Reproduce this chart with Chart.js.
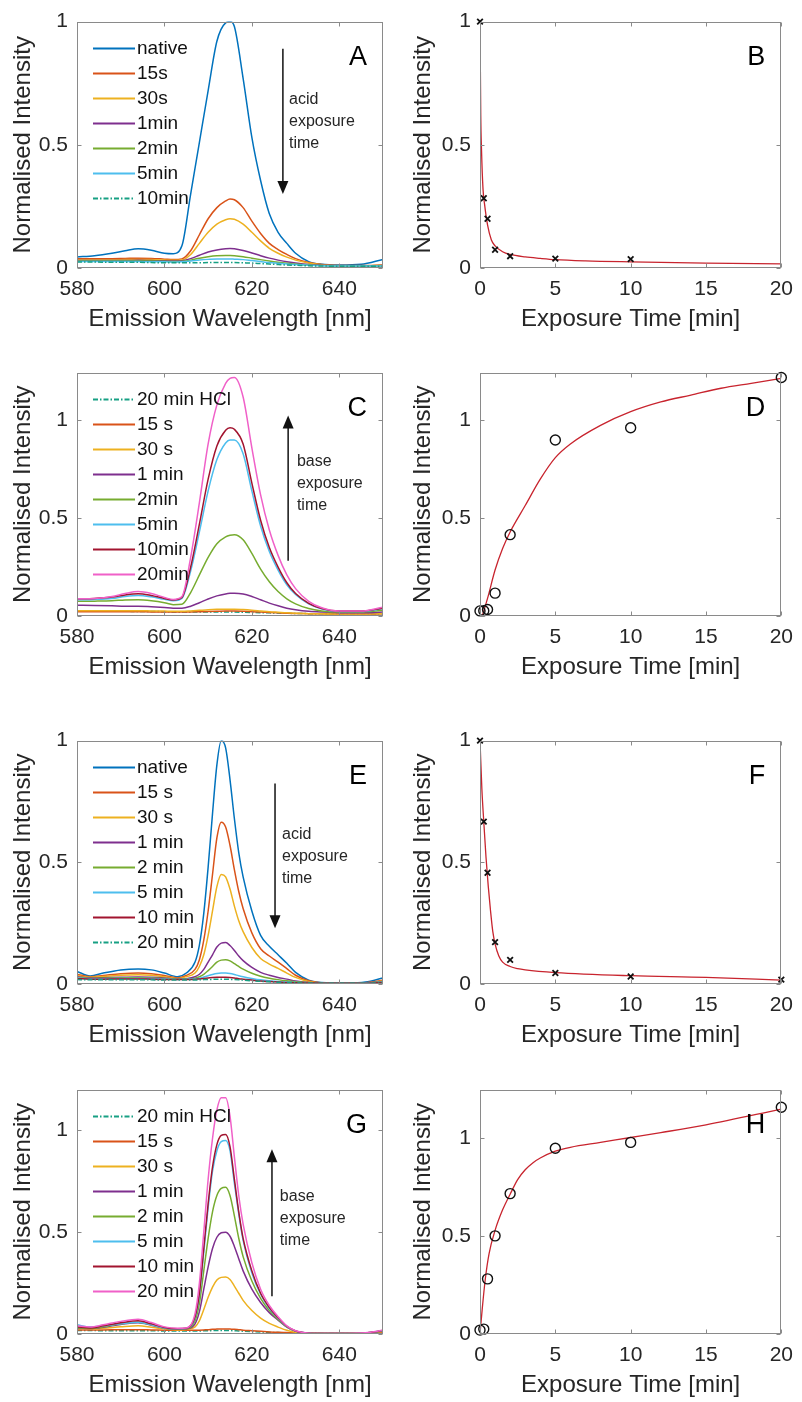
<!DOCTYPE html>
<html>
<head>
<meta charset="utf-8">
<script src="https://cdn.jsdelivr.net/npm/chart.js@4.4.0/dist/chart.umd.min.js"></script>
<style>
  body { margin: 0; background: #fff; }
  #fig { position: relative; width: 802px; height: 1402px; background: #fff; }
  #fig canvas { position: absolute; }
</style>
</head>
<body>
<div id="fig"></div>
<script>
// tick labels
const waveTicks = [580, 600, 620, 640];
const timeTicks = [0, 5, 10, 15, 20];
const intensityTicks = [0, 0.5, 1];

// wavelength grids (nm)
const wlAC = [580, 584, 588, 591, 594, 597, 600, 602, 604, 606, 608, 610, 612, 614, 615, 616, 618, 620, 622, 624, 626, 628, 630, 633, 636, 640, 645, 650];
const wlEG = [580, 583, 586, 590, 594, 597, 600, 603, 605, 607, 608, 609, 610, 611, 612, 613, 614, 615, 616, 617, 618, 620, 622, 624, 626, 628, 630, 633, 637, 642, 646, 650];

// panel A - acid exposure
const aNative = [0.045, 0.05, 0.06, 0.07, 0.078, 0.072, 0.06, 0.058, 0.09, 0.3, 0.51, 0.72, 0.92, 0.995, 1.0, 0.98, 0.77, 0.53, 0.355, 0.22, 0.145, 0.1, 0.06, 0.026, 0.015, 0.012, 0.015, 0.035];
const a15s = [0.038, 0.038, 0.038, 0.039, 0.04, 0.039, 0.036, 0.034, 0.037, 0.07, 0.135, 0.2, 0.245, 0.272, 0.28, 0.277, 0.245, 0.19, 0.14, 0.1, 0.075, 0.055, 0.038, 0.022, 0.014, 0.01, 0.01, 0.012];
const a30s = [0.033, 0.033, 0.033, 0.034, 0.035, 0.034, 0.032, 0.031, 0.033, 0.055, 0.1, 0.145, 0.178, 0.196, 0.2, 0.198, 0.178, 0.145, 0.11, 0.08, 0.06, 0.044, 0.032, 0.02, 0.013, 0.009, 0.009, 0.011];
const a1min = [0.03, 0.03, 0.03, 0.03, 0.031, 0.03, 0.029, 0.028, 0.029, 0.038, 0.052, 0.065, 0.073, 0.078, 0.079, 0.078, 0.071, 0.061, 0.05, 0.04, 0.032, 0.025, 0.02, 0.014, 0.011, 0.009, 0.009, 0.01];
const a2min = [0.028, 0.028, 0.028, 0.028, 0.028, 0.028, 0.027, 0.026, 0.027, 0.032, 0.04, 0.046, 0.05, 0.051, 0.051, 0.05, 0.046, 0.04, 0.034, 0.028, 0.023, 0.019, 0.016, 0.012, 0.01, 0.008, 0.008, 0.009];
const a5min = [0.026, 0.026, 0.026, 0.026, 0.026, 0.025, 0.025, 0.024, 0.025, 0.028, 0.032, 0.035, 0.037, 0.037, 0.037, 0.036, 0.034, 0.03, 0.026, 0.022, 0.019, 0.016, 0.014, 0.011, 0.009, 0.008, 0.008, 0.008];
const a10min = [0.024, 0.024, 0.023, 0.023, 0.023, 0.022, 0.021, 0.021, 0.021, 0.021, 0.021, 0.022, 0.022, 0.022, 0.022, 0.022, 0.021, 0.02, 0.018, 0.016, 0.014, 0.012, 0.011, 0.009, 0.008, 0.007, 0.007, 0.007];

// panel C - base exposure
const cHCl = [0.025, 0.025, 0.024, 0.024, 0.023, 0.023, 0.022, 0.021, 0.021, 0.02, 0.02, 0.02, 0.02, 0.02, 0.02, 0.02, 0.019, 0.018, 0.017, 0.016, 0.015, 0.014, 0.013, 0.012, 0.011, 0.011, 0.011, 0.012];
const c15s = [0.022, 0.022, 0.022, 0.022, 0.022, 0.021, 0.021, 0.02, 0.02, 0.021, 0.022, 0.023, 0.024, 0.025, 0.025, 0.025, 0.024, 0.022, 0.02, 0.018, 0.016, 0.014, 0.013, 0.012, 0.011, 0.01, 0.01, 0.011];
const c30s = [0.027, 0.027, 0.027, 0.027, 0.027, 0.026, 0.025, 0.024, 0.024, 0.026, 0.029, 0.032, 0.034, 0.035, 0.035, 0.035, 0.033, 0.03, 0.026, 0.022, 0.019, 0.016, 0.014, 0.012, 0.011, 0.01, 0.01, 0.012];
const c1min = [0.055, 0.054, 0.052, 0.05, 0.05, 0.047, 0.043, 0.04, 0.04, 0.05, 0.068, 0.087, 0.103, 0.113, 0.116, 0.117, 0.113, 0.1, 0.083, 0.066, 0.052, 0.04, 0.032, 0.024, 0.02, 0.017, 0.016, 0.02];
const c2min = [0.075, 0.076, 0.078, 0.082, 0.083, 0.078, 0.068, 0.058, 0.06, 0.12, 0.21, 0.3, 0.37, 0.405, 0.413, 0.416, 0.39, 0.32, 0.24, 0.175, 0.125, 0.088, 0.062, 0.038, 0.026, 0.02, 0.02, 0.03];
const c5min = [0.083, 0.085, 0.09, 0.1, 0.105, 0.098, 0.085, 0.078, 0.09, 0.23, 0.43, 0.64, 0.8, 0.885, 0.9, 0.9, 0.83, 0.64, 0.46, 0.33, 0.235, 0.16, 0.11, 0.062, 0.036, 0.023, 0.023, 0.038];
const c10min = [0.088, 0.09, 0.097, 0.108, 0.114, 0.105, 0.09, 0.082, 0.095, 0.25, 0.47, 0.7, 0.87, 0.95, 0.963, 0.955, 0.88, 0.68, 0.49, 0.35, 0.25, 0.17, 0.115, 0.065, 0.038, 0.025, 0.025, 0.04];
const c20min = [0.088, 0.09, 0.1, 0.115, 0.125, 0.115, 0.095, 0.085, 0.1, 0.3, 0.58, 0.88, 1.08, 1.19, 1.215, 1.22, 1.12, 0.86, 0.62, 0.44, 0.31, 0.21, 0.14, 0.075, 0.042, 0.025, 0.025, 0.045];

// panel E - acid exposure
const eNative = [0.052, 0.033, 0.045, 0.058, 0.062, 0.058, 0.045, 0.03, 0.045, 0.09, 0.16, 0.29, 0.48, 0.7, 0.9, 1.0, 0.97, 0.84, 0.68, 0.54, 0.44, 0.3, 0.2, 0.155, 0.12, 0.085, 0.048, 0.016, 0.005, 0.004, 0.008, 0.025];
const e15s = [0.04, 0.03, 0.035, 0.042, 0.045, 0.042, 0.035, 0.025, 0.035, 0.06, 0.1, 0.18, 0.3, 0.45, 0.6, 0.665, 0.645, 0.57, 0.47, 0.38, 0.31, 0.21, 0.145, 0.115, 0.09, 0.063, 0.036, 0.013, 0.004, 0.003, 0.005, 0.015];
const e30s = [0.035, 0.028, 0.031, 0.036, 0.038, 0.036, 0.03, 0.022, 0.03, 0.045, 0.072, 0.12, 0.2, 0.3, 0.4, 0.45, 0.44, 0.39, 0.32, 0.26, 0.215, 0.15, 0.105, 0.082, 0.064, 0.045, 0.027, 0.01, 0.003, 0.003, 0.004, 0.012];
const e1min = [0.03, 0.025, 0.026, 0.028, 0.029, 0.028, 0.025, 0.02, 0.022, 0.03, 0.04, 0.06, 0.09, 0.12, 0.152, 0.168, 0.17, 0.158, 0.138, 0.115, 0.096, 0.068, 0.048, 0.036, 0.027, 0.02, 0.012, 0.006, 0.003, 0.003, 0.004, 0.01];
const e2min = [0.027, 0.023, 0.024, 0.025, 0.026, 0.025, 0.023, 0.02, 0.021, 0.024, 0.03, 0.04, 0.055, 0.072, 0.09, 0.098, 0.1, 0.095, 0.084, 0.072, 0.061, 0.044, 0.032, 0.024, 0.018, 0.013, 0.009, 0.005, 0.003, 0.003, 0.004, 0.009];
const e5min = [0.025, 0.022, 0.022, 0.023, 0.023, 0.023, 0.021, 0.019, 0.02, 0.021, 0.024, 0.029, 0.034, 0.039, 0.043, 0.045, 0.045, 0.043, 0.039, 0.034, 0.03, 0.023, 0.017, 0.013, 0.01, 0.008, 0.006, 0.004, 0.003, 0.003, 0.004, 0.008];
const e10min = [0.022, 0.02, 0.02, 0.021, 0.021, 0.02, 0.019, 0.018, 0.018, 0.019, 0.021, 0.023, 0.025, 0.027, 0.028, 0.028, 0.028, 0.027, 0.025, 0.022, 0.02, 0.016, 0.012, 0.01, 0.008, 0.006, 0.005, 0.004, 0.003, 0.003, 0.003, 0.006];
const e20min = [0.018, 0.017, 0.017, 0.017, 0.017, 0.017, 0.016, 0.016, 0.016, 0.016, 0.017, 0.018, 0.019, 0.019, 0.02, 0.02, 0.02, 0.019, 0.018, 0.017, 0.016, 0.013, 0.011, 0.009, 0.007, 0.006, 0.005, 0.004, 0.003, 0.003, 0.003, 0.005];

// panel G - base exposure
const gHCl = [0.017, 0.017, 0.016, 0.016, 0.016, 0.016, 0.015, 0.015, 0.015, 0.015, 0.015, 0.016, 0.016, 0.017, 0.017, 0.017, 0.017, 0.017, 0.016, 0.015, 0.014, 0.012, 0.01, 0.008, 0.007, 0.006, 0.005, 0.004, 0.003, 0.003, 0.003, 0.005];
const g15s = [0.02, 0.02, 0.02, 0.021, 0.021, 0.02, 0.019, 0.018, 0.018, 0.018, 0.019, 0.02, 0.021, 0.023, 0.024, 0.025, 0.025, 0.024, 0.023, 0.021, 0.019, 0.016, 0.013, 0.01, 0.008, 0.007, 0.006, 0.005, 0.004, 0.004, 0.004, 0.007];
const g30s = [0.028, 0.025, 0.028, 0.035, 0.04, 0.033, 0.024, 0.02, 0.022, 0.035, 0.065, 0.12, 0.18, 0.23, 0.265, 0.278, 0.28, 0.268, 0.235, 0.2, 0.165, 0.115, 0.078, 0.052, 0.034, 0.018, 0.008, 0.003, 0.002, 0.002, 0.004, 0.012];
const g1min = [0.03, 0.027, 0.033, 0.047, 0.055, 0.043, 0.028, 0.023, 0.025, 0.05, 0.11, 0.22, 0.33, 0.42, 0.475, 0.497, 0.5, 0.48, 0.43, 0.37, 0.31, 0.22, 0.155, 0.105, 0.068, 0.034, 0.014, 0.004, 0.002, 0.002, 0.005, 0.015];
const g2min = [0.03, 0.028, 0.035, 0.05, 0.058, 0.045, 0.03, 0.024, 0.026, 0.065, 0.15, 0.31, 0.47, 0.6, 0.68, 0.715, 0.72, 0.68, 0.58, 0.47, 0.38, 0.26, 0.175, 0.115, 0.072, 0.035, 0.014, 0.004, 0.002, 0.002, 0.005, 0.015];
const g5min = [0.045, 0.035, 0.04, 0.05, 0.058, 0.045, 0.03, 0.025, 0.028, 0.08, 0.19, 0.4, 0.62, 0.8, 0.9, 0.945, 0.95, 0.9, 0.74, 0.59, 0.46, 0.3, 0.195, 0.125, 0.078, 0.037, 0.015, 0.004, 0.002, 0.002, 0.005, 0.016];
const g10min = [0.035, 0.03, 0.04, 0.055, 0.065, 0.05, 0.032, 0.026, 0.028, 0.085, 0.2, 0.42, 0.64, 0.82, 0.93, 0.975, 0.98, 0.92, 0.76, 0.6, 0.47, 0.31, 0.2, 0.13, 0.08, 0.038, 0.015, 0.004, 0.002, 0.002, 0.005, 0.017];
const g20min = [0.04, 0.034, 0.045, 0.062, 0.072, 0.056, 0.035, 0.028, 0.03, 0.1, 0.25, 0.5, 0.76, 0.96, 1.1, 1.16, 1.16, 1.07, 0.87, 0.68, 0.54, 0.35, 0.22, 0.14, 0.085, 0.04, 0.016, 0.004, 0.002, 0.002, 0.006, 0.018];

// kinetics (exposure time in min)
const tB = [0, 0.25, 0.5, 1, 2, 5, 10];
const yB = [1.0, 0.283, 0.2, 0.074, 0.048, 0.038, 0.036];
const fitTB = [0, 0.05, 0.1, 0.2, 0.3, 0.5, 0.75, 1, 1.5, 2, 3, 4, 5, 7, 10, 15, 20];
const fitYB = [1.0, 0.62, 0.48, 0.32, 0.26, 0.175, 0.115, 0.09, 0.066, 0.055, 0.045, 0.039, 0.034, 0.029, 0.025, 0.02, 0.017];

const tD = [0, 0.25, 0.5, 1, 2, 5, 10, 20];
const yD = [0.026, 0.027, 0.033, 0.117, 0.416, 0.9, 0.963, 1.22];
const fitTD = [0.15, 0.5, 1, 1.5, 2, 3, 4, 5, 6, 8, 10, 12, 14, 16, 18, 20];
const fitYD = [0, 0.09, 0.235, 0.345, 0.43, 0.565, 0.7, 0.81, 0.88, 0.975, 1.045, 1.095, 1.13, 1.165, 1.19, 1.215];

const tF = [0, 0.25, 0.5, 1, 2, 5, 10, 20];
const yF = [1.0, 0.667, 0.457, 0.172, 0.099, 0.045, 0.031, 0.018];
const fitTF = [0, 0.125, 0.25, 0.4, 0.55, 0.7, 0.85, 1, 1.25, 1.5, 2, 2.5, 3, 5, 10, 15, 20];
const fitYF = [1.0, 0.8, 0.667, 0.52, 0.4, 0.3, 0.215, 0.165, 0.115, 0.09, 0.072, 0.063, 0.058, 0.047, 0.034, 0.027, 0.016];

const tH = [0, 0.25, 0.5, 1, 2, 5, 10, 20];
const yH = [0.02, 0.025, 0.282, 0.502, 0.718, 0.95, 0.98, 1.16];
const fitTH = [0, 0.15, 0.35, 0.6, 1, 1.5, 2, 2.5, 3, 3.5, 4, 5, 6, 8, 10, 12, 15, 20];
const fitYH = [0, 0.13, 0.28, 0.41, 0.53, 0.635, 0.715, 0.79, 0.84, 0.875, 0.9, 0.935, 0.955, 0.98, 1.005, 1.03, 1.07, 1.15];

const FONT = '"Liberation Sans", Arial, sans-serif';
const TEXT = '#262626';
const BLUE = '#0072BD', ORANGE = '#D95319', YELLOW = '#EDB120', PURPLE = '#7E2F8E',
      GREEN = '#77AC30', CYAN = '#4DBEEE', DARKRED = '#A2142F', PINK = '#F060C8', TEAL = '#17A083';
const DASHDOT = [5, 2, 1.5, 2];
const FITRED = '#C8242E';

function spectrum(label, xs, ys, color, dash) {
  return {
    label: label,
    data: xs.map((x, i) => ({ x: x, y: ys[i] })),
    showLine: true,
    borderColor: color,
    borderWidth: 1.5,
    borderDash: dash || [],
    pointRadius: 0,
    cubicInterpolationMode: 'monotone',
    fill: false
  };
}

function markers(xs, ys, style) {
  return {
    legend: false,
    data: xs.map((x, i) => ({ x: x, y: ys[i] })),
    showLine: false,
    pointStyle: style,
    pointRadius: style === 'circle' ? 5 : 4,
    borderColor: '#111',
    backgroundColor: 'rgba(0,0,0,0)',
    borderWidth: style === 'circle' ? 1.4 : 1.8,
    clip: false
  };
}

function fitLine(xs, ys) {
  return {
    legend: false,
    data: xs.map((x, i) => ({ x: x, y: ys[i] })),
    showLine: true,
    borderColor: FITRED,
    borderWidth: 1.3,
    pointRadius: 0,
    cubicInterpolationMode: 'monotone'
  };
}

// box, inward ticks, in-axes legend, arrows, notes and panel letters
const decor = {
  id: 'decor',
  afterDatasetsDraw(chart, args, opts) {
    const ctx = chart.ctx;
    const a = chart.chartArea;
    const xs = chart.scales.x, ys = chart.scales.y;
    const L = Math.round(a.left) + 0.5, R = Math.round(a.right) - 0.5;
    const T = Math.round(a.top) + 0.5, B = Math.round(a.bottom) - 0.5;
    ctx.save();
    ctx.strokeStyle = '#8a8a8a';
    ctx.lineWidth = 1;
    ctx.strokeRect(L, T, R - L, B - T);
    ctx.beginPath();
    xs.ticks.forEach(t => {
      const px = Math.round(xs.getPixelForValue(t.value)) + 0.5;
      ctx.moveTo(px, B); ctx.lineTo(px, B - 4);
      ctx.moveTo(px, T); ctx.lineTo(px, T + 4);
    });
    ys.ticks.forEach(t => {
      const py = Math.round(ys.getPixelForValue(t.value)) + 0.5;
      ctx.moveTo(L, py); ctx.lineTo(L + 4, py);
      ctx.moveTo(R, py); ctx.lineTo(R - 4, py);
    });
    ctx.stroke();

    if (opts.legend) {
      ctx.font = '19px ' + FONT;
      ctx.textAlign = 'left';
      ctx.textBaseline = 'middle';
      let row = 0;
      chart.data.datasets.forEach(ds => {
        if (ds.legend === false) return;
        const yy = a.top + 27 + row * 25;
        ctx.strokeStyle = ds.borderColor;
        ctx.lineWidth = 2;
        ctx.setLineDash(ds.borderDash || []);
        ctx.beginPath();
        ctx.moveTo(a.left + 16, yy);
        ctx.lineTo(a.left + 58, yy);
        ctx.stroke();
        ctx.setLineDash([]);
        ctx.fillStyle = '#111';
        ctx.fillText(ds.label, a.left + 60, yy);
        row++;
      });
    }

    if (opts.arrow) {
      const ax = xs.getPixelForValue(opts.arrow.x);
      const y0 = ys.getPixelForValue(opts.arrow.from);
      const y1 = ys.getPixelForValue(opts.arrow.to);
      const dir = y1 > y0 ? 1 : -1;
      ctx.strokeStyle = '#111';
      ctx.fillStyle = '#111';
      ctx.lineWidth = 1.5;
      ctx.beginPath();
      ctx.moveTo(ax, y0);
      ctx.lineTo(ax, y1 - dir * 10);
      ctx.stroke();
      ctx.beginPath();
      ctx.moveTo(ax, y1);
      ctx.lineTo(ax - 5.5, y1 - dir * 13);
      ctx.lineTo(ax + 5.5, y1 - dir * 13);
      ctx.closePath();
      ctx.fill();
    }

    if (opts.note) {
      ctx.font = '16px ' + FONT;
      ctx.fillStyle = TEXT;
      ctx.textAlign = 'left';
      ctx.textBaseline = 'middle';
      const nx = xs.getPixelForValue(opts.note.x);
      const ny = ys.getPixelForValue(opts.note.y);
      opts.note.lines.forEach((s, i) => ctx.fillText(s, nx, ny + i * 22));
    }

    if (opts.letter) {
      ctx.font = '27px ' + FONT;
      ctx.fillStyle = '#000';
      ctx.textAlign = 'right';
      ctx.textBaseline = 'alphabetic';
      ctx.fillText(opts.letter, a.right - 16, a.top + 43);
    }
    ctx.restore();
  }
};

const spectraA = [
  spectrum('native', wlAC, aNative, BLUE),
  spectrum('15s', wlAC, a15s, ORANGE),
  spectrum('30s', wlAC, a30s, YELLOW),
  spectrum('1min', wlAC, a1min, PURPLE),
  spectrum('2min', wlAC, a2min, GREEN),
  spectrum('5min', wlAC, a5min, CYAN),
  spectrum('10min', wlAC, a10min, TEAL, DASHDOT)
];
const spectraC = [
  spectrum('20 min HCl', wlAC, cHCl, TEAL, DASHDOT),
  spectrum('15 s', wlAC, c15s, ORANGE),
  spectrum('30 s', wlAC, c30s, YELLOW),
  spectrum('1 min', wlAC, c1min, PURPLE),
  spectrum('2min', wlAC, c2min, GREEN),
  spectrum('5min', wlAC, c5min, CYAN),
  spectrum('10min', wlAC, c10min, DARKRED),
  spectrum('20min', wlAC, c20min, PINK)
];
const spectraE = [
  spectrum('native', wlEG, eNative, BLUE),
  spectrum('15 s', wlEG, e15s, ORANGE),
  spectrum('30 s', wlEG, e30s, YELLOW),
  spectrum('1 min', wlEG, e1min, PURPLE),
  spectrum('2 min', wlEG, e2min, GREEN),
  spectrum('5 min', wlEG, e5min, CYAN),
  spectrum('10 min', wlEG, e10min, DARKRED),
  spectrum('20 min', wlEG, e20min, TEAL, DASHDOT)
];
const spectraG = [
  spectrum('20 min HCl', wlEG, gHCl, TEAL, DASHDOT),
  spectrum('15 s', wlEG, g15s, ORANGE),
  spectrum('30 s', wlEG, g30s, YELLOW),
  spectrum('1 min', wlEG, g1min, PURPLE),
  spectrum('2 min', wlEG, g2min, GREEN),
  spectrum('5 min', wlEG, g5min, CYAN),
  spectrum('10 min', wlEG, g10min, DARKRED),
  spectrum('20 min', wlEG, g20min, PINK)
];
// later curves on top, like the original plot order
[spectraA, spectraC, spectraE, spectraG].forEach(list => list.forEach((ds, i) => { ds.order = -i; }));

const WAVE_TITLE = 'Emission Wavelength [nm]';
const TIME_TITLE = 'Exposure Time [min]';

const panels = [
  { colLeft: 0, colWidth: 400, left: 77, right: 383, top: 20, bottom: 268, xMin: 580, xMax: 650, xTicks: waveTicks, yMax: 1,
    xTitle: WAVE_TITLE, datasets: spectraA,
    decor: { letter: 'A', legend: true, arrow: { x: 627.1, from: 0.89, to: 0.30 }, note: { x: 628.5, y: 0.685, lines: ['acid', 'exposure', 'time'] } } },
  { colLeft: 400, colWidth: 402, left: 480, right: 786, top: 20, bottom: 268, xMin: 0, xMax: 20, xTicks: timeTicks, yMax: 1,
    xTitle: TIME_TITLE, datasets: [markers(tB, yB, 'crossRot'), fitLine(fitTB, fitYB)],
    decor: { letter: 'B' } },
  { colLeft: 0, colWidth: 400, left: 77, right: 383, top: 371, bottom: 616, xMin: 580, xMax: 650, xTicks: waveTicks, yMax: 1.245,
    xTitle: WAVE_TITLE, datasets: spectraC,
    decor: { letter: 'C', legend: true, arrow: { x: 628.3, from: 0.283, to: 1.025 }, note: { x: 630.3, y: 0.792, lines: ['base', 'exposure', 'time'] } } },
  { colLeft: 400, colWidth: 402, left: 480, right: 786, top: 371, bottom: 616, xMin: 0, xMax: 20, xTicks: timeTicks, yMax: 1.245,
    xTitle: TIME_TITLE, datasets: [markers(tD, yD, 'circle'), fitLine(fitTD, fitYD)],
    decor: { letter: 'D' } },
  { colLeft: 0, colWidth: 400, left: 77, right: 383, top: 739, bottom: 984, xMin: 580, xMax: 650, xTicks: waveTicks, yMax: 1,
    xTitle: WAVE_TITLE, datasets: spectraE,
    decor: { letter: 'E', legend: true, arrow: { x: 625.3, from: 0.824, to: 0.229 }, note: { x: 626.9, y: 0.612, lines: ['acid', 'exposure', 'time'] } } },
  { colLeft: 400, colWidth: 402, left: 480, right: 786, top: 739, bottom: 984, xMin: 0, xMax: 20, xTicks: timeTicks, yMax: 1,
    xTitle: TIME_TITLE, datasets: [markers(tF, yF, 'crossRot'), fitLine(fitTF, fitYF)],
    decor: { letter: 'F' } },
  { colLeft: 0, colWidth: 400, left: 77, right: 383, top: 1088, bottom: 1334, xMin: 580, xMax: 650, xTicks: waveTicks, yMax: 1.2,
    xTitle: WAVE_TITLE, datasets: spectraG,
    decor: { letter: 'G', legend: true, arrow: { x: 624.6, from: 0.185, to: 0.907 }, note: { x: 626.4, y: 0.673, lines: ['base', 'exposure', 'time'] } } },
  { colLeft: 400, colWidth: 402, left: 480, right: 786, top: 1088, bottom: 1334, xMin: 0, xMax: 20, xTicks: timeTicks, yMax: 1.25,
    xTitle: TIME_TITLE, datasets: [markers(tH, yH, 'circle'), fitLine(fitTH, fitYH)],
    decor: { letter: 'H' } }
];

const fig = document.getElementById('fig');
const PAD_TOP = 20;
const X_AXIS_H = 66;

panels.forEach(p => {
  const canvas = document.createElement('canvas');
  const h = PAD_TOP + (p.bottom - p.top) + X_AXIS_H;
  canvas.width = p.colWidth;
  canvas.height = h;
  canvas.style.left = p.colLeft + 'px';
  canvas.style.top = (p.top - PAD_TOP) + 'px';
  canvas.style.width = p.colWidth + 'px';
  canvas.style.height = h + 'px';
  fig.appendChild(canvas);

  const yAxisW = p.left - p.colLeft;
  const padRight = p.colLeft + p.colWidth - p.right;

  new Chart(canvas, {
    type: 'scatter',
    data: { datasets: p.datasets },
    plugins: [decor],
    options: {
      responsive: false,
      animation: false,
      devicePixelRatio: 1,
      events: [],
      layout: { padding: { top: PAD_TOP, right: padRight, left: 0, bottom: 0 } },
      plugins: {
        legend: { display: false },
        tooltip: { enabled: false },
        decor: p.decor
      },
      scales: {
        x: {
          type: 'linear',
          min: p.xMin,
          max: p.xMax,
          grid: { display: false, drawTicks: false },
          border: { display: false },
          afterBuildTicks: s => { s.ticks = p.xTicks.map(v => ({ value: v })); },
          afterFit: s => { s.height = X_AXIS_H; },
          ticks: { color: TEXT, padding: 9, maxRotation: 0, font: { family: FONT, size: 21 } },
          title: { display: true, text: p.xTitle, color: TEXT, padding: 0, font: { family: FONT, size: 24 } }
        },
        y: {
          type: 'linear',
          min: 0,
          max: p.yMax,
          grid: { display: false, drawTicks: false },
          border: { display: false },
          afterBuildTicks: s => { s.ticks = intensityTicks.map(v => ({ value: v })); },
          afterFit: s => { s.width = yAxisW; },
          ticks: { color: TEXT, padding: 9, font: { family: FONT, size: 21 }, callback: v => String(v) },
          title: { display: true, text: 'Normalised Intensity', color: TEXT, padding: { top: 9, bottom: 0 }, font: { family: FONT, size: 24 } }
        }
      }
    }
  });
});
</script>
</body>
</html>
